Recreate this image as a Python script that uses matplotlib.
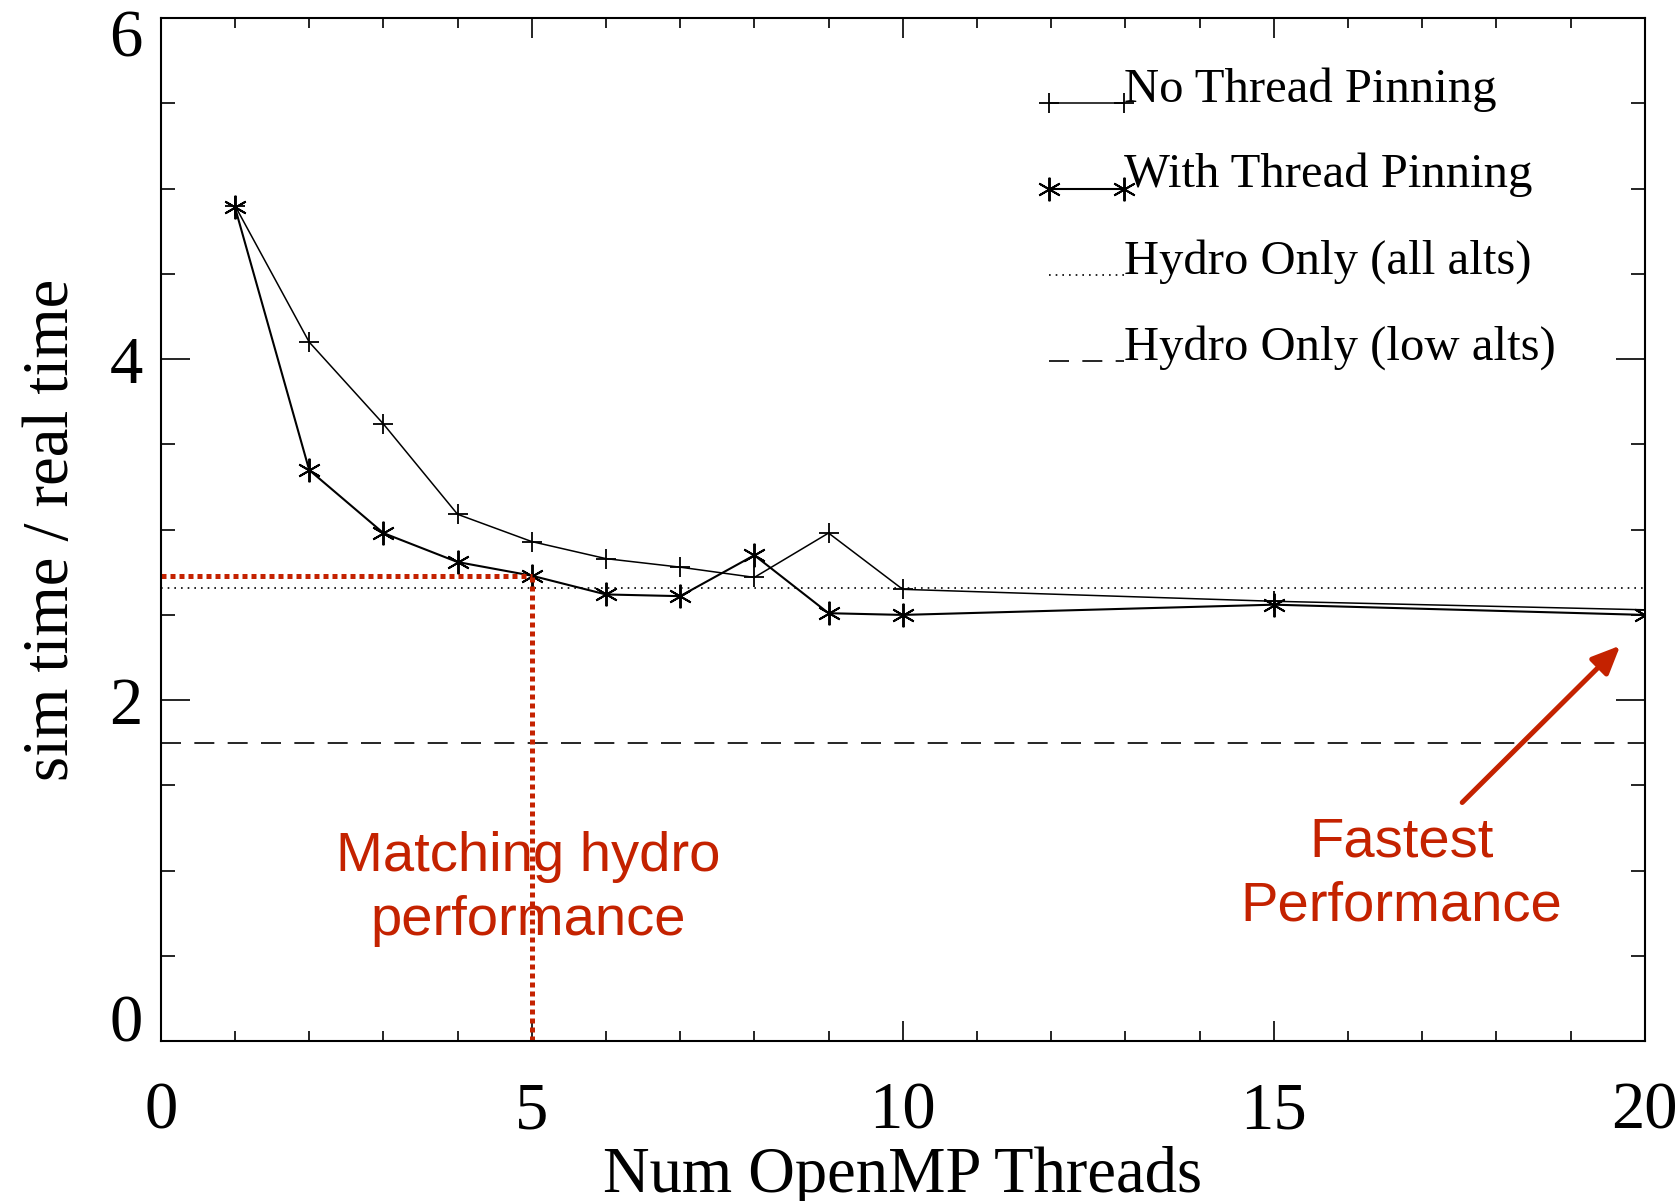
import matplotlib
matplotlib.use('Agg')
import matplotlib.pyplot as plt
from matplotlib.ticker import MultipleLocator
from matplotlib.lines import Line2D
from matplotlib.legend_handler import HandlerLine2D
from matplotlib.transforms import ScaledTranslation

RED = '#C42200'

threads = [1, 2, 3, 4, 5, 6, 7, 8, 9, 10, 15, 20]
no_pinning = [4.90, 4.10, 3.62, 3.09, 2.93, 2.83, 2.78, 2.72, 2.98, 2.65, 2.58, 2.53]
with_pinning = [4.89, 3.35, 2.98, 2.81, 2.73, 2.62, 2.61, 2.85, 2.51, 2.50, 2.56, 2.50]
hydro_all = 2.66
hydro_low = 1.75
match_x, match_y = 5, 2.73
labels = ['No Thread Pinning', 'With Thread Pinning', 'Hydro Only (all alts)', 'Hydro Only (low alts)']


class LowHandler(HandlerLine2D):
    # legend samples sit near the text baseline, like the IDL legend
    def create_artists(self, legend, orig_handle, xdescent, ydescent, width, height, fontsize, trans):
        arts = super().create_artists(legend, orig_handle, xdescent, ydescent, width, height, fontsize, trans)
        for a in arts:
            a.set_ydata([y - 0.38 * fontsize for y in a.get_ydata()])
        return arts


plt.rcParams['font.family'] = ['Liberation Serif', 'DejaVu Serif']

fig = plt.figure(figsize=(16.8, 12.01), dpi=100)
ax = fig.add_axes([0.0957, 0.133, 0.8833, 0.852])

ax.plot(threads, no_pinning, color='black', lw=1.1, marker='+', ms=14, mew=1.3, label=labels[0])
ax.plot(threads, with_pinning, color='black', lw=1.5, marker=(6, 2, 0), ms=17, mew=1.4, label=labels[1])
ax.axhline(hydro_all, color='black', lw=1.2, ls=(0, (1, 3)), label=labels[2])
ax.axhline(hydro_low, color='black', lw=1.2, ls=(0, (12, 8)), label=labels[3])

# red guide lines
ax.plot([0, match_x], [match_y, match_y], color=RED, lw=3.6, ls=(0, (1, 0.8)), solid_capstyle='butt')
ax.plot([match_x, match_x], [0, match_y], color=RED, lw=3.6, ls=(0, (1, 0.8)), solid_capstyle='butt')

ax.text(4.95, 0.89, 'Matching hydro\nperformance', color=RED, fontsize=40.5, family='Liberation Sans',
        ha='center', va='center', linespacing=1.3)
ax.text(16.72, 0.975, 'Fastest\nPerformance', color=RED, fontsize=40.5, family='Liberation Sans',
        ha='center', va='center', linespacing=1.3)
ax.annotate('', xy=(19.67, 2.32), xytext=(17.54, 1.40),
            arrowprops=dict(arrowstyle='-|>,head_length=1.7,head_width=0.75', color=RED, lw=3.6,
                            shrinkA=0, shrinkB=0))

ax.set_xlim(0, 20)
ax.set_ylim(0, 6)
ax.xaxis.set_major_locator(MultipleLocator(5))
ax.xaxis.set_minor_locator(MultipleLocator(1))
ax.set_yticks([0, 2, 4, 6])
ax.yaxis.set_minor_locator(MultipleLocator(0.5))
ax.tick_params(axis='both', which='both', direction='in', top=True, right=True, width=1.2, colors='black')
ax.tick_params(axis='x', which='major', length=14.5, pad=29, labelsize=48)
ax.tick_params(axis='x', which='minor', length=7.5)
ax.tick_params(axis='y', which='major', length=21, pad=13, labelsize=48)
ax.tick_params(axis='y', which='minor', length=10)
for s in ax.spines.values():
    s.set_linewidth(1.5)

# end labels sit inside the axis range, as in the original
fig.canvas.draw()
ylabels = ax.get_yticklabels()
ylabels[0].set_va('baseline')
ylabels[-1].set_va('top')
ylabels[-1].set_transform(ylabels[-1].get_transform() + ScaledTranslation(0, 0.09, fig.dpi_scale_trans))

ax.set_xlabel('Num OpenMP Threads', fontsize=46.5, va='baseline')
ax.xaxis.set_label_coords(0.5, -0.147)
ax.set_ylabel('sim time / real time', fontsize=46.5, labelpad=20)

ax.legend(loc='upper left', bbox_to_anchor=(0.589, 0.952), frameon=False, fontsize=35,
          handlelength=2.14, handletextpad=-0.3, labelspacing=0.85, numpoints=2,
          borderpad=0, borderaxespad=0, handler_map={Line2D: LowHandler()})

fig.savefig('out.png', dpi=100)
